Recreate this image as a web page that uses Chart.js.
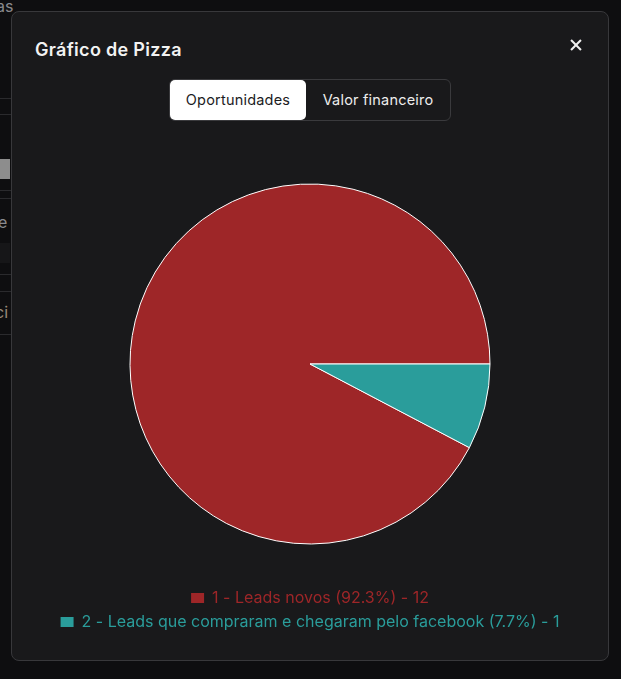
<!DOCTYPE html>
<html>
<head>
<meta charset="utf-8">
<title>Gráfico de Pizza</title>
<script src="https://cdn.jsdelivr.net/npm/chart.js"></script>
<style>
  html, body { margin: 0; padding: 0; }
  body { width: 621px; height: 679px; background: #0e0e10; font-family: Inter, "Noto Sans", sans-serif; position: relative; overflow: hidden; }
  .bg-line { position: absolute; left: 0; width: 11px; height: 1px; background: #2a2a2d; }
  .bg-text { position: absolute; left: 0; color: #8a8a8e; font-size: 16px; }
  .modal { position: absolute; left: 11px; top: 11px; width: 596px; height: 648px; background: #19191b; border: 1px solid #38383b; border-radius: 8px; }
  .title { position: absolute; left: 23px; top: 27px; color: #f2f2f2; font-size: 18px; font-weight: 600; letter-spacing: 0.3px; }
  .close { position: absolute; left: 555px; top: 24px; width: 18px; height: 18px; }
  .close:before, .close:after { content: ""; position: absolute; left: 8px; top: 2px; width: 2px; height: 14px; background: #f0f0f0; }
  .close:before { transform: rotate(45deg); }
  .close:after { transform: rotate(-45deg); }
  .toggle { position: absolute; left: 157px; top: 67px; width: 280px; height: 40px; border: 1px solid #3a3a3d; border-radius: 6px; }
  .toggle div { position: absolute; top: 0; height: 40px; line-height: 40px; font-size: 14.5px; text-align: center; letter-spacing: 0.2px; }
  .toggle .on { left: 0; width: 136px; background: #ffffff; color: #1c1c1e; border-radius: 5px; }
  .toggle .off { left: 136px; width: 144px; color: #ededed; }
  .chart-box { position: absolute; left: 0; top: 134px; width: 596px; height: 494px; }
</style>
</head>
<body>
  <div class="bg-text" style="top:-4px;left:-4px">as</div>
  <div class="bg-line" style="top:98px"></div>
  <div class="bg-line" style="top:114px"></div>
  <div style="position:absolute;left:0;top:159px;width:10px;height:20px;background:#8d8d8d"></div>
  <div class="bg-line" style="top:190px"></div>
  <div class="bg-line" style="top:198px"></div>
  <div class="bg-text" style="top:212px;left:-2px">e</div>
  <div style="position:absolute;left:0;top:243px;width:10px;height:20px;background:#161618"></div>
  <div class="bg-line" style="top:274px"></div>
  <div class="bg-line" style="top:291px"></div>
  <div class="bg-text" style="top:302px;left:-5px;color:#9a8a7a">ci</div>
  <div class="bg-line" style="top:334px"></div>

  <div class="modal">
    <div class="title">Gráfico de Pizza</div>
    <div class="close"></div>
    <div class="toggle">
      <div class="on">Oportunidades</div>
      <div class="off">Valor financeiro</div>
    </div>
    <div class="chart-box"><canvas id="myChart"></canvas></div>
  </div>

<script>
  const categories = ['Leads novos', 'Leads que compraram e chegaram pelo facebook'];
  const counts = [12, 1];
  const colors = ['#9e2628', '#2a9d9b'];

  const total = counts.reduce((a, b) => a + b, 0);
  const labels = categories.map((c, i) =>
    `${i + 1} - ${c} (${(counts[i] / total * 100).toFixed(1)}%) - ${counts[i]}`);

  // first slice ends at 3 o'clock, second slice sits just below it
  const startAngle = 90 + 360 * counts[1] / total;

  const ctx = document.getElementById('myChart').getContext('2d');
  new Chart(ctx, {
    type: 'pie',
    data: {
      labels: labels,
      datasets: [{
        data: counts,
        backgroundColor: colors,
        borderColor: '#ffffff',
        borderWidth: 1,
        radius: 180
      }]
    },
    options: {
      responsive: true,
      maintainAspectRatio: false,
      animation: false,
      rotation: startAngle,
      plugins: {
        tooltip: { enabled: false },
        legend: {
          position: 'bottom',
          labels: {
            font: { family: 'Inter', size: 16 },
            boxWidth: 13,
            boxHeight: 10,
            padding: 8,
            generateLabels: (chart) => chart.data.labels.map((t, i) => ({
              text: t,
              fillStyle: colors[i],
              strokeStyle: colors[i],
              fontColor: colors[i],
              lineWidth: 0,
              index: i
            }))
          }
        }
      }
    }
  });
</script>
</body>
</html>
